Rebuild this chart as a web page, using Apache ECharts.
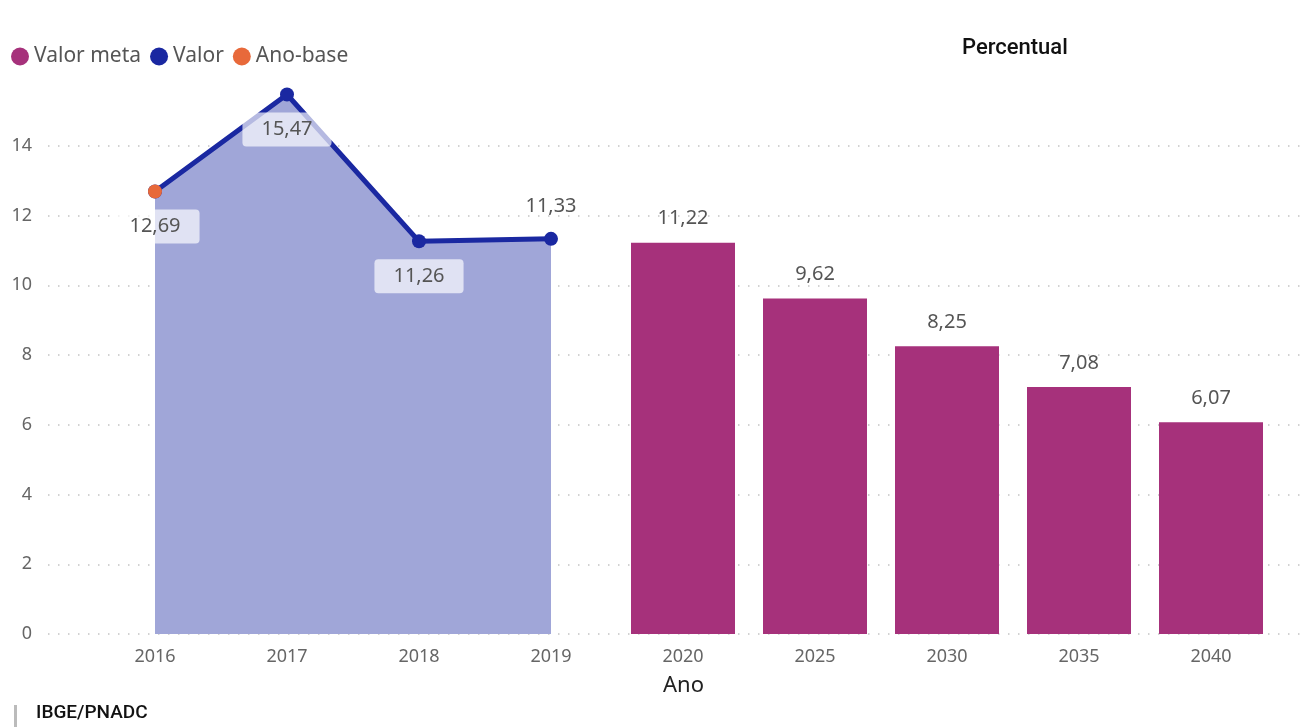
<!DOCTYPE html>
<html>
<head>
<meta charset="utf-8">
<script src="https://cdn.jsdelivr.net/npm/echarts@6/dist/echarts.min.js"></script>
<style>html,body{margin:0;padding:0;background:#fff}#c{width:1309px;height:727px}</style>
</head>
<body>
<div id="c"></div>
<script>
var categories = ['2016','2017','2018','2019','2020','2025','2030','2035','2040'];
var valor = [12.69, 15.47, 11.26, 11.33, null, null, null, null, null];
var valorMeta = [null, null, null, null, 11.22, 9.62, 8.25, 7.08, 6.07];
var anoBase = [12.69, null, null, null, null, null, null, null, null];
var yTicks = [0, 2, 4, 6, 8, 10, 12, 14];

var FONT = "'Noto Sans', 'Open Sans', sans-serif";
function fmt(v){ return v.toFixed(2).replace('.', ','); }

// label placement per point of "Valor"
var valorLabelPos = ['bottom','bottom','bottom','top'];
var valorData = valor.map(function(v, i){
  if (v == null) return null;
  var boxed = valorLabelPos[i] === 'bottom';
  return {
    value: v,
    label: boxed ? {
      position: 'bottom', distance: 11,
      backgroundColor: 'rgba(255,255,255,0.68)',
      padding: [7, 19], borderRadius: 4
    } : { position: 'top', distance: 16 }
  };
});

var chart = echarts.init(document.getElementById('c'), null, {renderer: 'canvas'});
chart.setOption({
  backgroundColor: '#fff',
  animation: false,
  textStyle: {fontFamily: FONT},
  legend: {
    left: 6, top: 41,
    icon: 'circle', itemWidth: 18, itemHeight: 18, itemGap: 9,
    textStyle: {fontSize: 21, color: '#555', fontFamily: FONT, padding: [0,0,0,0]},
    data: ['Valor meta', 'Valor', 'Ano-base']
  },
  graphic: [
    {type: 'text', left: 962, top: 37, style: {text: 'Percentual', fontSize: 22, fontWeight: 500, fill: '#111', fontFamily: "Roboto, sans-serif"}},
    {type: 'text', left: 663, top: 675, style: {text: 'Ano', fontSize: 22, fill: '#222', fontFamily: FONT}},
    {type: 'rect', shape: {x: 14, y: 705, width: 3, height: 22}, style: {fill: '#bbb'}},
    {type: 'text', left: 36, top: 704, style: {text: 'IBGE/PNADC', fontSize: 19, fontWeight: 500, fill: '#111', fontFamily: "Roboto, sans-serif"}}
  ],
  grid: [
    {left: 48, right: 4, top: 76, bottom: 93},
    {left: 89, right: 32, top: 76, bottom: 93}
  ],
  xAxis: [
    {type: 'value', gridIndex: 0, show: false, min: 0, max: 1},
    {type: 'category', gridIndex: 1, data: categories, boundaryGap: true,
     axisLine: {show: false}, axisTick: {show: false},
     axisLabel: {fontSize: 18, color: '#666', margin: 14, fontFamily: FONT}}
  ],
  yAxis: [
    {type: 'value', gridIndex: 0, min: 0, max: 16, interval: 2,
     axisLine: {show: false}, axisTick: {show: false},
     axisLabel: {fontSize: 18, color: '#666', margin: 16, showMaxLabel: false, fontFamily: FONT,
       formatter: function(v){ return yTicks.indexOf(v) >= 0 ? String(v) : ''; }},
     splitLine: {show: true, showMaxLine: false, lineStyle: {color: '#c4c4c4', width: 1.5, type: [1.5, 8.5]}}},
    {type: 'value', gridIndex: 1, min: 0, max: 16, show: false, splitLine: {show: false}}
  ],
  series: [
    {
      name: 'Valor meta', type: 'bar', xAxisIndex: 1, yAxisIndex: 1,
      data: valorMeta, barWidth: 104,
      itemStyle: {color: '#a6317b'},
      label: {show: true, position: 'top', distance: 14, fontSize: 20, color: '#555', fontFamily: FONT,
        formatter: function(p){ return fmt(p.value); }}
    },
    {
      name: 'Valor', type: 'line', xAxisIndex: 1, yAxisIndex: 1,
      data: valorData, connectNulls: false,
      symbol: 'circle', symbolSize: 14,
      lineStyle: {color: '#1a28a1', width: 5},
      itemStyle: {color: '#1a28a1'},
      areaStyle: {color: '#a0a6d8', opacity: 1},
      label: {show: true, fontSize: 20, color: '#555', fontFamily: FONT,
        formatter: function(p){ return fmt(p.value); }},
      z: 3
    },
    {
      name: 'Ano-base', type: 'line', xAxisIndex: 1, yAxisIndex: 1,
      data: anoBase, symbol: 'circle', symbolSize: 14,
      lineStyle: {width: 0}, itemStyle: {color: '#e8693a'},
      z: 5
    }
  ]
});
</script>
</body>
</html>
